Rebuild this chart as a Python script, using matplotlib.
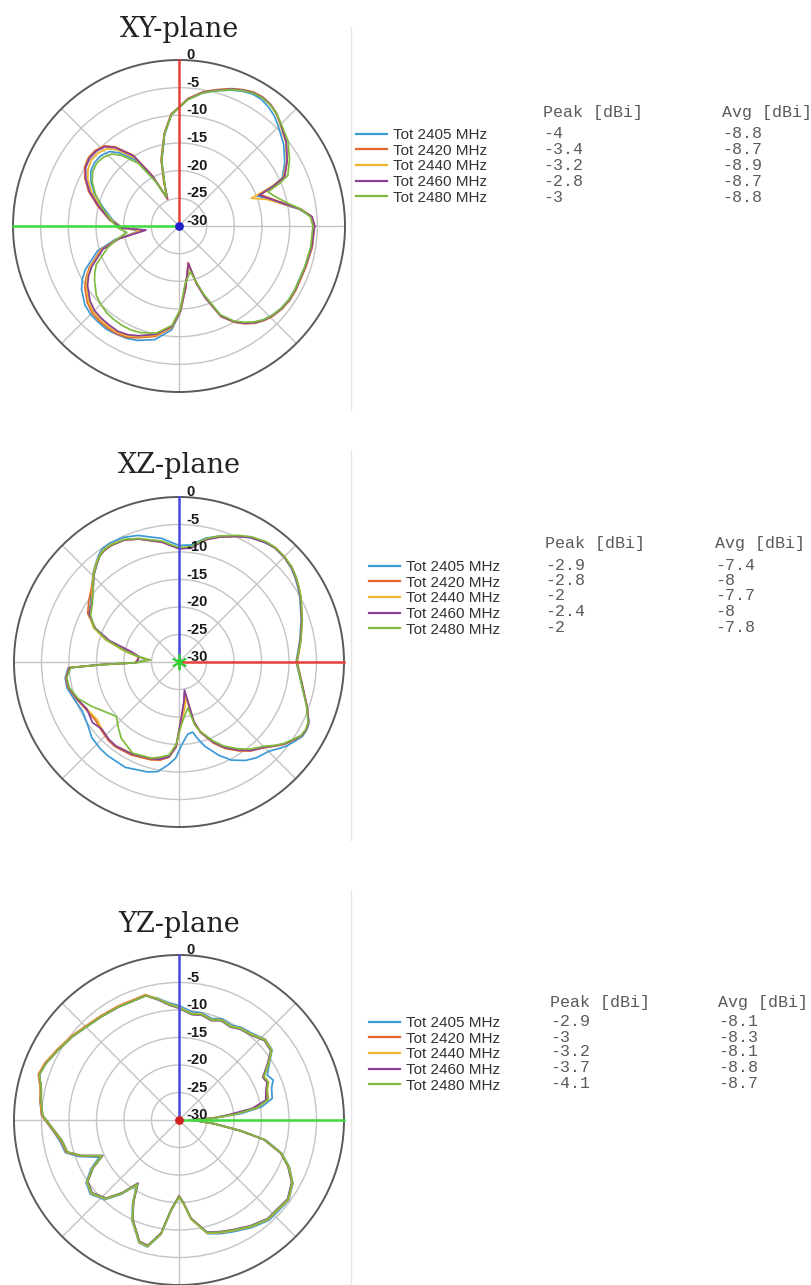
import numpy as np
import matplotlib
matplotlib.use("Agg")
import matplotlib.pyplot as plt
from matplotlib.lines import Line2D

# ---------------- data ----------------
SERIES = ["Tot 2405 MHz", "Tot 2420 MHz", "Tot 2440 MHz", "Tot 2460 MHz", "Tot 2480 MHz"]
COLORS = ["#3d9ad6", "#e0672e", "#efb52e", "#8a3f98", "#7fba3e"]
R_TICKS = [0, -5, -10, -15, -20, -25, -30]

# XY plane
ANG_XY = [0, 4, 8, 12, 17, 21, 23, 25, 31, 38, 45, 49, 53, 57, 61, 65, 69, 75, 80, 86,
          90, 94, 99, 105, 109, 113, 118, 123, 129, 133, 138, 143, 148, 153, 159, 166, 175, 182,
          187, 192, 197, 205, 209, 213, 220, 225, 230, 235, 240, 245, 250, 258, 266, 271, 276,
          284, 287, 290, 295, 300, 304, 308, 312, 316, 321, 326, 331, 336, 342, 351, 360]
XY_2405 = [-5.7, -6.1, -8.1, -10.9, -13.2, -14.8, -11.6, -9.4, -7.7, -6.0,
           -4.6, -3.7, -3.1, -2.7, -2.7, -3.1, -3.7, -4.7, -5.6, -7.1,
           -8.6, -9.9, -13.3, -17.9, -22.0, -24.5, -20.4, -15.9, -13.0, -11.6,
           -11.0, -10.9, -11.2, -12.1, -13.6, -15.8, -18.0, -19.8, -22.8, -18.2,
           -14.6, -11.3, -10.0, -9.0, -7.8, -7.4, -7.3, -7.2, -7.4, -7.6,
           -8.0, -9.0, -11.2, -14.5, -18.8, -22.6, -19.2, -16.4, -12.0, -10.0,
           -8.9, -7.9, -7.2, -6.7, -6.3, -6.1, -6.1, -6.2, -6.1, -5.8, -5.7]
XY_2420 = [-5.5, -5.9, -7.8, -10.5, -12.8, -14.2, -11.2, -8.9, -7.2, -5.4,
           -4.0, -3.1, -2.5, -2.2, -2.3, -2.8, -3.4, -4.5, -5.4, -6.9,
           -8.5, -9.7, -13.0, -17.5, -21.5, -24.8, -19.6, -14.7, -11.6, -10.2,
           -9.6, -9.5, -9.9, -10.9, -12.5, -14.8, -17.4, -19.6, -23.8, -18.6,
           -15.2, -12.1, -10.8, -9.7, -8.4, -7.8, -7.6, -7.5, -7.5, -7.8,
           -8.5, -9.6, -11.6, -14.6, -18.6, -23.2, -19.0, -16.2, -11.9, -9.9,
           -8.7, -7.7, -7.0, -6.5, -6.1, -5.9, -5.9, -6.0, -5.9, -5.6, -5.5]
XY_2440 = [-5.6, -6.0, -8.0, -10.8, -13.5, -16.0, -11.8, -9.2, -7.3, -5.5,
           -4.1, -3.2, -2.6, -2.3, -2.4, -2.9, -3.5, -4.6, -5.5, -7.0,
           -8.6, -9.8, -13.1, -17.7, -21.9, -24.5, -20.0, -15.3, -12.3, -10.9,
           -10.3, -10.2, -10.6, -11.5, -13.1, -15.3, -17.8, -19.8, -23.0, -18.8,
           -15.4, -12.3, -11.0, -10.0, -8.7, -8.1, -7.9, -7.8, -7.8, -8.1,
           -8.7, -9.8, -11.7, -14.8, -19.0, -22.5, -19.2, -16.4, -12.0, -10.0,
           -8.8, -7.8, -7.1, -6.6, -6.2, -6.0, -6.0, -6.1, -6.0, -5.7, -5.6]
XY_2460 = [-5.5, -5.9, -7.9, -10.6, -13.0, -14.5, -11.4, -9.0, -7.2, -5.4,
           -4.0, -3.1, -2.5, -2.3, -2.4, -2.9, -3.5, -4.6, -5.5, -7.0,
           -8.6, -9.8, -13.2, -17.8, -22.0, -24.6, -19.8, -14.9, -11.8, -10.4,
           -9.8, -9.7, -10.1, -11.1, -12.7, -15.0, -17.5, -19.7, -24.0, -18.9,
           -15.6, -12.6, -11.3, -10.3, -9.0, -8.4, -8.2, -8.1, -8.0, -8.3,
           -8.9, -10.0, -11.8, -14.8, -18.8, -23.0, -19.1, -16.3, -12.0, -10.0,
           -8.8, -7.8, -7.1, -6.6, -6.2, -6.0, -6.0, -6.1, -6.0, -5.7, -5.5]
XY_2480 = [-5.8, -6.2, -7.8, -10.0, -11.8, -12.8, -10.2, -8.3, -6.7, -5.0,
           -3.9, -3.1, -2.6, -2.4, -2.5, -3.0, -3.6, -4.7, -5.6, -7.1,
           -8.6, -9.9, -13.2, -17.8, -22.0, -24.3, -20.8, -16.5, -13.6, -12.2,
           -11.5, -11.3, -11.6, -12.4, -13.8, -15.6, -17.6, -19.0, -20.5, -18.5,
           -16.5, -13.5, -12.6, -11.8, -10.5, -10.0, -9.6, -9.4, -9.3, -9.3,
           -9.5, -10.2, -12.0, -15.0, -19.5, -21.5, -19.5, -16.8, -12.3, -10.2,
           -9.0, -8.0, -7.2, -6.7, -6.3, -6.1, -6.1, -6.2, -6.1, -5.9, -5.8]
PEAK_XY = ["-4", "-3.4", "-3.2", "-2.8", "-3"]
AVG_XY = ["-8.8", "-8.7", "-8.9", "-8.7", "-8.8"]

# XZ plane
ANG_XZ = [0, 10, 19, 28, 32, 36, 40, 45, 50, 54, 60, 65, 72, 78, 84, 90, 98, 108, 114, 120,
          124, 127, 130, 134, 140, 146, 152, 158, 163, 168, 172, 176, 181, 182, 183, 188, 193,
          200, 207, 215, 221, 228, 233, 243, 254, 259, 264, 268, 272, 277, 281, 284, 287, 293,
          298, 304, 309, 315, 319, 322, 326, 329, 332, 335, 341, 350, 360]
XZ_2405 = [-8.7, -7.7, -6.5, -5.1, -4.5, -3.9, -3.4, -3.0, -2.9, -3.2,
           -3.9, -4.8, -5.9, -7.0, -8.6, -8.8, -7.3, -5.8, -5.2, -5.0,
           -5.1, -5.7, -6.5, -7.5, -9.3, -10.6, -11.4, -13.3, -16.2, -19.8,
           -22.3, -24.0, -21.8, -15.2, -9.8, -9.1, -9.1, -9.8, -10.3, -9.8,
           -9.0, -8.7, -8.6, -8.5, -9.2, -9.7, -11.2, -12.5, -15.0, -16.8,
           -17.0, -15.5, -14.0, -11.6, -9.8, -8.4, -7.6, -7.0, -6.0, -5.2,
           -4.4, -3.8, -3.7, -3.9, -5.4, -7.4, -8.7]
XZ_2420 = [-8.5, -7.5, -6.3, -4.9, -4.3, -3.7, -3.2, -2.9, -2.8, -3.1,
           -3.8, -4.8, -6.1, -7.3, -9.1, -9.4, -8.0, -6.5, -5.7, -5.5,
           -5.6, -6.0, -6.7, -7.7, -9.2, -10.2, -11.2, -13.5, -16.5, -21.0,
           -22.5, -22.5, -22.0, -15.5, -10.0, -9.2, -9.3, -10.2, -11.0, -11.5,
           -11.2, -10.8, -10.7, -11.0, -11.5, -11.8, -12.6, -14.5, -19.5, -22.5,
           -24.5, -18.8, -16.6, -14.0, -12.2, -10.5, -9.2, -8.0, -6.7, -5.7,
           -4.7, -4.0, -3.8, -4.0, -5.4, -7.3, -8.5]
XZ_2440 = [-8.6, -7.6, -6.4, -5.0, -4.4, -3.8, -3.3, -3.0, -2.9, -3.1,
           -3.8, -4.7, -6.0, -7.2, -9.0, -9.3, -7.9, -6.4, -5.6, -5.3,
           -5.4, -5.9, -6.6, -7.6, -9.4, -10.8, -11.5, -13.2, -16.0, -19.5,
           -22.0, -24.5, -22.0, -15.5, -10.0, -9.3, -9.4, -10.3, -11.2, -11.8,
           -11.4, -11.0, -10.9, -11.3, -11.8, -12.2, -12.8, -14.8, -19.0, -21.5,
           -23.5, -18.5, -16.8, -14.3, -12.5, -10.8, -9.4, -8.2, -6.8, -5.8,
           -4.8, -4.0, -3.8, -4.0, -5.4, -7.3, -8.6]
XZ_2460 = [-8.6, -7.6, -6.4, -5.0, -4.4, -3.8, -3.3, -3.0, -2.9, -3.2,
           -3.9, -4.8, -6.1, -7.3, -9.2, -9.4, -8.0, -6.5, -5.7, -5.5,
           -5.6, -6.0, -6.8, -7.8, -9.6, -10.9, -11.5, -13.6, -16.8, -21.2,
           -22.6, -22.6, -22.2, -15.6, -10.1, -9.3, -9.4, -10.3, -11.2, -10.8,
           -11.4, -11.0, -10.9, -11.2, -11.7, -12.0, -12.7, -14.6, -19.5, -22.8,
           -24.8, -18.8, -16.7, -14.2, -12.4, -10.7, -9.3, -8.1, -6.8, -5.8,
           -4.8, -4.0, -3.8, -4.0, -5.4, -7.3, -8.6]
XZ_2480 = [-8.6, -7.5, -6.3, -4.9, -4.3, -3.7, -3.2, -2.9, -2.8, -3.0,
           -3.7, -4.6, -5.9, -7.1, -8.9, -9.2, -7.8, -6.4, -5.6, -5.4,
           -5.5, -6.0, -6.7, -7.7, -9.6, -11.0, -11.8, -13.4, -16.2, -19.8,
           -22.3, -24.8, -22.3, -15.8, -10.3, -9.4, -9.5, -10.5, -12.2, -14.0,
           -14.9, -13.6, -12.6, -11.4, -11.8, -12.4, -13.0, -15.0, -18.5, -20.5,
           -21.5, -18.2, -16.8, -14.5, -12.7, -11.0, -9.6, -8.3, -6.9, -5.9,
           -4.9, -4.1, -3.9, -4.1, -5.5, -7.4, -8.6]
PEAK_XZ = ["-2.9", "-2.8", "-2", "-2.4", "-2"]
AVG_XZ = ["-7.4", "-8", "-7.7", "-8", "-7.8"]

# YZ plane
ANG_YZ = [0, 3, 6, 9, 13, 19, 23, 27, 32, 37, 43, 50, 56, 61, 67, 72, 78, 83, 90, 95, 100, 105,
          110, 118, 127, 135, 142, 150, 157, 162, 167, 172, 178, 185, 190, 196, 200, 205, 209, 214,
          220, 227, 232, 237, 241, 245, 252, 256, 261, 265, 270, 273, 277, 284, 290, 296, 304, 312,
          318, 324, 331, 337, 342, 347, 350, 354, 357, 360]
YZ_2405 = [-28, -23.5, -18.5, -14.8, -12.6, -12.2, -11.4, -12.0, -10.6, -8.8, -8.5, -9.4, -9.7, -10.3,
           -10.0, -10.6, -10.1, -10.2, -9.2, -8.6, -7.5, -6.6, -6.8, -6.7, -6.5, -6.1, -5.4, -4.6, -3.7,
           -3.3, -4.3, -4.5, -5.0, -7.0, -8.0, -8.5, -10.6, -14.0, -11.7, -9.6, -9.0, -10.2, -12.8,
           -15.8, -12.6, -9.8, -6.5, -6.2, -8.9, -13.4, -16.0, -14.9, -11.9, -8.7, -8.0, -7.4, -6.4,
           -5.5, -5.5, -5.3, -6.3, -8.2, -10.3, -13.8, -18.3, -23.3, -26.3, -28]
YZ_2420 = [-28, -24.2, -19.8, -15.8, -13.5, -13.2, -12.5, -12.8, -11.0, -9.0, -8.7, -9.7, -10.0, -10.6,
           -10.3, -10.9, -10.4, -10.6, -9.6, -8.9, -7.7, -6.4, -6.6, -6.5, -6.3, -5.9, -5.2, -4.4, -3.5,
           -3.1, -4.1, -4.5, -5.0, -7.1, -8.2, -8.7, -10.9, -14.6, -12.1, -9.9, -9.3, -10.5, -13.1,
           -16.2, -12.9, -10.0, -6.7, -6.4, -9.1, -13.6, -16.2, -14.9, -11.9, -8.9, -8.3, -7.7, -6.7,
           -5.8, -5.8, -5.5, -6.5, -8.4, -10.5, -14.1, -18.6, -23.6, -26.6, -28]
YZ_2440 = [-28, -24.0, -19.5, -15.5, -13.3, -13.0, -12.3, -12.6, -10.8, -8.9, -8.6, -9.6, -9.9, -10.5,
           -10.2, -10.8, -10.3, -10.5, -9.5, -8.8, -7.6, -6.5, -6.7, -6.6, -6.4, -6.0, -5.3, -4.5, -3.6,
           -3.2, -4.2, -4.6, -5.1, -7.2, -8.3, -8.8, -11.0, -14.5, -12.0, -9.8, -9.2, -10.4, -13.0,
           -16.0, -12.8, -9.9, -6.6, -6.3, -9.0, -13.5, -16.0, -14.8, -11.8, -8.8, -8.2, -7.6, -6.6,
           -5.7, -5.7, -5.4, -6.4, -8.3, -10.4, -14.0, -18.5, -23.5, -26.5, -28]
YZ_2460 = [-28, -23.8, -21.0, -16.5, -13.8, -13.3, -12.6, -12.9, -11.1, -9.1, -8.8, -9.8, -10.1, -10.7,
           -10.4, -11.0, -10.5, -10.7, -9.7, -9.0, -7.8, -6.6, -6.8, -6.7, -6.5, -6.1, -5.4, -4.6, -3.7,
           -3.3, -4.3, -4.7, -5.2, -7.3, -8.4, -8.9, -11.1, -14.7, -12.2, -10.0, -9.4, -10.6, -13.2,
           -16.3, -13.0, -10.1, -6.8, -6.5, -9.2, -13.7, -16.2, -15.0, -12.0, -9.0, -8.4, -7.8, -6.8,
           -5.9, -5.9, -5.6, -6.6, -8.5, -10.6, -14.2, -18.7, -23.7, -26.7, -28]
YZ_2480 = [-28, -24.0, -19.6, -15.6, -13.4, -13.1, -12.4, -12.7, -10.9, -9.0, -8.7, -9.7, -10.0, -10.6,
           -10.3, -10.9, -10.4, -10.6, -9.6, -8.9, -7.7, -6.6, -6.8, -6.7, -6.5, -6.1, -5.4, -4.6, -3.7,
           -3.3, -4.3, -4.7, -5.2, -7.3, -8.4, -8.9, -11.1, -14.6, -12.1, -9.9, -9.3, -10.5, -13.1,
           -16.1, -12.9, -10.0, -6.7, -6.4, -9.1, -13.6, -16.1, -14.9, -11.9, -8.9, -8.3, -7.7, -6.7,
           -5.8, -5.8, -5.5, -6.5, -8.4, -10.5, -14.1, -18.6, -23.6, -26.6, -28]
PEAK_YZ = ["-2.9", "-3", "-3.2", "-3.7", "-4.1"]
AVG_YZ = ["-8.1", "-8.3", "-8.1", "-8.8", "-8.7"]

# ---------------- layout ----------------
W, H = 811, 1285
fig = plt.figure(figsize=(W / 100, H / 100), dpi=100)
fig.patch.set_facecolor("white")

RED, GREEN, BLUE = "#e8413c", "#3fdc3f", "#4b4be0"
TXT = dict(family="Liberation Mono", fontsize=12, color="#5a5a5a", ha="left", va="center")

planes = [
    dict(title="XY-plane", ang=ANG_XY, vals=[XY_2405, XY_2420, XY_2440, XY_2460, XY_2480],
         peak=PEAK_XY, avg=AVG_XY, cx=179, cy=226, R=166, ty=37,
         vcol=RED, hcol=GREEN, hdir=180, ccol="#2020d0", cmark="o",
         leg_x=356, leg_y=127, px=543, ax_=722, hy=112, rows=[133, 149, 165, 181.5, 197],
         edge=(27, 410)),
    dict(title="XZ-plane", ang=ANG_XZ, vals=[XZ_2405, XZ_2420, XZ_2440, XZ_2460, XZ_2480],
         peak=PEAK_XZ, avg=AVG_XZ, cx=179, cy=662, R=165, ty=473,
         vcol=BLUE, hcol=RED, hdir=0, ccol="#30d030", cmark=(6, 2, 0),
         leg_x=369, leg_y=559, px=545, ax_=715, hy=543, rows=[565, 581, 596, 612, 627],
         edge=(450, 840)),
    dict(title="YZ-plane", ang=ANG_YZ, vals=[YZ_2405, YZ_2420, YZ_2440, YZ_2460, YZ_2480],
         peak=PEAK_YZ, avg=AVG_YZ, cx=179, cy=1120, R=165, ty=932,
         vcol=BLUE, hcol=GREEN, hdir=0, ccol="#d02020", cmark="o",
         leg_x=369, leg_y=1015, px=550, ax_=718, hy=1003, rows=[1021, 1037, 1052, 1067, 1083],
         edge=(890, 1285)),
]

for p in planes:
    cx, cy, R = p["cx"], p["cy"], p["R"]
    ax = fig.add_axes([(cx - R) / W, 1 - (cy + R) / H, 2 * R / W, 2 * R / H], projection="polar")
    ax.set_theta_zero_location("E")
    ax.set_theta_direction(1)
    ax.set_ylim(-30, 0)
    ax.set_facecolor("none")
    ax.set_yticks([-25, -20, -15, -10, -5])
    ax.set_yticklabels([])
    ax.set_xticks(np.deg2rad(np.arange(0, 360, 45)))
    ax.set_xticklabels([])
    ax.set_xticks(np.deg2rad(np.arange(0, 360, 2)), minor=True)
    ax.tick_params(axis="x", which="major", length=0)
    ax.tick_params(axis="x", which="minor", length=3, width=0.7, color="#555555", direction="in")
    ax.tick_params(axis="y", length=0)
    ax.grid(True, color="#c4c4c4", linewidth=1.0)
    ax.spines["polar"].set_color("#5a5a5a")
    ax.spines["polar"].set_linewidth(1.4)

    th = np.deg2rad(p["ang"])
    lines = []
    for vals, col, lab in zip(p["vals"], COLORS, SERIES):
        ln, = ax.plot(th, vals, color=col, linewidth=1.25, label=lab, zorder=3,
                      solid_joinstyle="round")
        lines.append(ln)

    # coordinate axes lines
    ax.plot([np.pi / 2, np.pi / 2], [-30, 0], color=p["vcol"], linewidth=1.8, zorder=4, clip_on=False)
    ax.plot([np.deg2rad(p["hdir"])] * 2, [-30, 0], color=p["hcol"], linewidth=1.8, zorder=4, clip_on=False)
    ax.plot([0], [-30], marker=p["cmark"], color=p["ccol"], markersize=5 if p["cmark"] == "o" else 11,
            markeredgewidth=1.3, zorder=5)

    # radial labels
    for r in R_TICKS:
        ax.annotate(str(r), xy=(np.pi / 2, r), xytext=(5.5, 3.5), textcoords="offset points",
                    ha="left", va="center", fontsize=10.5, family="Liberation Sans",
                    weight="bold", color="#1a1a1a", zorder=6, annotation_clip=False)

    # title
    fig.text(cx / W, 1 - p["ty"] / H, p["title"], ha="center", va="baseline",
             fontsize=19.5, family="DejaVu Serif", color="#222222")

    # legend
    leg = ax.legend(handles=lines, loc="upper left",
                    bbox_to_anchor=(p["leg_x"] / W, 1 - (p["leg_y"] + 1) / H),
                    bbox_transform=fig.transFigure, frameon=False,
                    prop=dict(family="Liberation Sans", size=11),
                    handlelength=2.0, handletextpad=0.4, labelspacing=0.11,
                    borderpad=0, borderaxespad=0)
    for t in leg.get_texts():
        t.set_color("#333333")
    for l in leg.get_lines():
        l.set_linewidth(1.6)

    # table
    fig.text(p["px"] / W, 1 - p["hy"] / H, "Peak [dBi]", **TXT)
    fig.text(p["ax_"] / W, 1 - p["hy"] / H, "Avg [dBi]", **TXT)
    for y, pk, av in zip(p["rows"], p["peak"], p["avg"]):
        fig.text(p["px"] / W, 1 - y / H, pk, **TXT)
        fig.text(p["ax_"] / W, 1 - y / H, av, **TXT)

    # faint edge of the original screenshot
    fig.add_artist(Line2D([351 / W, 351 / W], [1 - p["edge"][0] / H, 1 - p["edge"][1] / H],
                          color="#e6e6e6", linewidth=1.0))

fig.savefig("out.png", dpi=100, facecolor="white")
